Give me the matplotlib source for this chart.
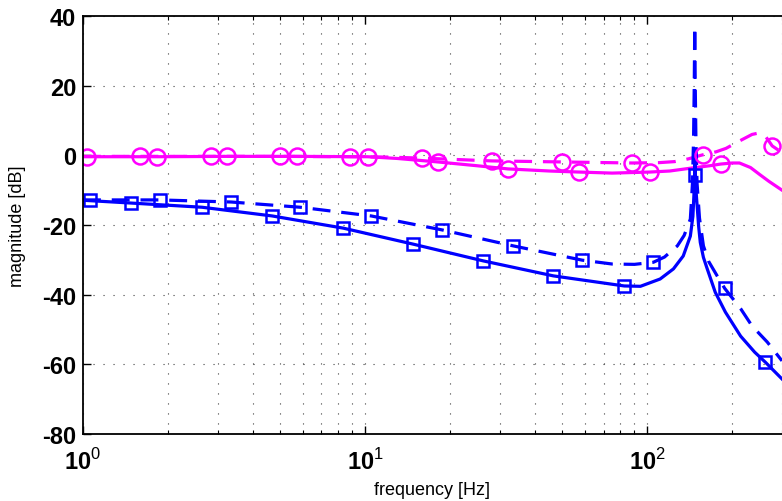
import matplotlib
matplotlib.use("Agg")
import matplotlib.pyplot as plt
from matplotlib.ticker import FixedLocator, FixedFormatter, LogLocator, NullFormatter

# ---------------------------
# Data (frequency in Hz, magnitude in dB)
# ---------------------------
# magenta, solid line
mag_solid_f = [1, 1.83, 3.24, 5.74, 10.2, 13, 18.1, 25, 32.1, 45, 57.3, 75, 102, 120,
               145, 166, 182, 200, 212, 232, 250, 270, 300]
mag_solid_db = [-0.4, -0.4, -0.3, -0.3, -0.4, -0.9, -1.9, -3.0, -3.9, -4.5, -4.8, -5.1, -4.8, -4.5,
                -3.6, -3.0, -2.5, -2.2, -2.2, -3.5, -5.5, -7.5, -10.0]
mag_solid_mf = [1.03, 1.83, 3.24, 5.74, 10.2, 18.1, 32.1, 57.3, 102, 182]
mag_solid_mdb = [-0.4, -0.4, -0.3, -0.3, -0.4, -1.9, -3.9, -4.8, -4.8, -2.5]

# magenta, dashed line
mag_dash_f = [1, 1.59, 2.84, 4.99, 8.84, 12, 15.9, 28.1, 50, 88.4, 110, 125, 140, 150,
              158, 175, 190, 213, 235, 248, 262, 277, 290, 300]
mag_dash_db = [-0.3, -0.3, -0.3, -0.3, -0.4, -0.5, -0.8, -1.6, -1.9, -2.2, -2.1, -1.8, -1.0, -0.3,
               0.2, 1.0, 2.0, 4.2, 6.0, 6.4, 5.5, 2.7, 1.6, 0.8]
mag_dash_mf = [1.59, 2.84, 4.99, 8.84, 15.9, 28.1, 50, 88.4, 158, 277]
mag_dash_mdb = [-0.3, -0.3, -0.3, -0.4, -0.8, -1.6, -1.9, -2.2, 0.2, 2.7]

# blue, solid line
blue_solid_f = [1, 1.48, 2.64, 4.68, 8.36, 14.8, 26.2, 46.4, 82.8, 94.5, 111, 123.7,
                134, 142, 145, 146.3, 147, 147.3, 148, 149, 150.4, 152, 154, 158,
                163, 174, 189, 214, 240, 262, 300]
blue_solid_db = [-12.9, -13.7, -14.9, -17.4, -20.9, -25.5, -30.3, -34.6, -37.5, -37.6, -35.5, -32.6,
                 -28.9, -23.2, -17.5, -11.0, -5.7, -1.0, -6.0, -11.0, -15.5, -20.5, -25.0, -29.3,
                 -32.6, -39.3, -45.0, -51.9, -56.5, -59.4, -64.2]
blue_solid_mf = [1.48, 2.64, 4.68, 8.36, 14.8, 26.2, 46.4, 82.8, 147, 262]
blue_solid_mdb = [-13.7, -14.9, -17.4, -20.9, -25.5, -30.3, -34.6, -37.5, -5.7, -59.4]

# blue, dashed line
blue_dash_f = [1, 1.06, 1.87, 3.35, 5.88, 10.5, 18.7, 33.5, 58.8, 75, 90, 105, 115, 127.7,
               135, 142, 144.5, 145.8, 146.6, 147.2, 147.8, 148.6, 150, 153, 158, 165,
               177, 188, 214, 235, 266, 300]
blue_dash_db = [-12.8, -12.8, -12.8, -13.4, -14.9, -17.4, -21.4, -26.0, -30.1, -31.2, -31.3, -30.7, -29.2, -26.0,
                -23.0, -18.3, -8.0, 5.0, 20.0, 37.0, 20.0, 5.0, -8.0, -18.0, -26.0, -30.5,
                -34.7, -38.2, -44.0, -49.0, -53.6, -59.0]
blue_dash_mf = [1.06, 1.87, 3.35, 5.88, 10.5, 18.7, 33.5, 58.8, 105, 188]
blue_dash_mdb = [-12.8, -12.8, -13.4, -14.9, -17.4, -21.4, -26.0, -30.1, -30.7, -38.2]

y_ticks = [-80, -60, -40, -20, 0, 20, 40]
x_ticks = [1, 10, 100]
x_tick_labels = [r'$\mathbf{10}^{\mathrm{0}}$', r'$\mathbf{10}^{\mathrm{1}}$', r'$\mathbf{10}^{\mathrm{2}}$']

# ---------------------------
# Style
# ---------------------------
plt.rcParams['font.family'] = ['Liberation Sans', 'DejaVu Sans']
plt.rcParams['mathtext.fontset'] = 'custom'
plt.rcParams['mathtext.rm'] = 'Liberation Sans'
plt.rcParams['mathtext.bf'] = 'Liberation Sans:bold'

MAGENTA = '#ff00ff'
BLUE = '#0000ff'
LW = 2.3
DASH = (0, (5.6, 3.4))

fig = plt.figure(figsize=(7.82, 5.02), dpi=100)
ax = fig.add_axes([83 / 782, 1 - 435 / 502, 1 - 83 / 782, (435 - 17) / 502])

# lines
ax.semilogx(mag_solid_f, mag_solid_db, color=MAGENTA, lw=LW)
ax.semilogx(mag_dash_f, mag_dash_db, color=MAGENTA, lw=LW, linestyle=DASH)
ax.semilogx(blue_solid_f, blue_solid_db, color=BLUE, lw=LW)
ax.semilogx(blue_dash_f, blue_dash_db, color=BLUE, lw=LW, linestyle=DASH)

# markers
ax.plot(mag_solid_mf, mag_solid_mdb, 'o', color=MAGENTA, mfc='none', ms=11.5, mew=1.8)
ax.plot(mag_dash_mf, mag_dash_mdb, 'o', color=MAGENTA, mfc='none', ms=11.5, mew=1.8)
ax.plot(blue_solid_mf, blue_solid_mdb, 's', color=BLUE, mfc='none', ms=9, mew=1.8)
ax.plot(blue_dash_mf, blue_dash_mdb, 's', color=BLUE, mfc='none', ms=9, mew=1.8)

ax.set_xlim(1, 300)
ax.set_ylim(-80, 40)

ax.xaxis.set_major_locator(FixedLocator(x_ticks))
ax.xaxis.set_major_formatter(FixedFormatter(x_tick_labels))
ax.xaxis.set_minor_locator(LogLocator(base=10, subs=range(2, 10)))
ax.xaxis.set_minor_formatter(NullFormatter())
ax.set_yticks(y_ticks)
ax.set_yticklabels([str(v) for v in y_ticks], fontweight='bold')

ax.tick_params(axis='both', which='both', direction='in', top=True, right=False)
ax.tick_params(axis='both', which='major', length=6, width=1.0, labelsize=17)
ax.tick_params(axis='x', which='major', pad=10)
ax.tick_params(axis='y', which='major', pad=5)
ax.tick_params(axis='x', which='minor', length=3, width=0.8)

grid_kw = dict(color='0.25', linewidth=0.8, linestyle=(0, (1, 8)))
ax.grid(True, which='major', axis='both', **grid_kw)
ax.grid(True, which='minor', axis='x', **grid_kw)

for side in ['left', 'bottom', 'top']:
    ax.spines[side].set_linewidth(1.3)
ax.spines['right'].set_visible(False)

ax.set_xlabel('frequency [Hz]', fontsize=13)
ax.set_ylabel('magnitude [dB]', fontsize=13)
ax.xaxis.set_label_coords(0.5, -0.112)
ax.yaxis.set_label_coords(-0.081, 0.5)

fig.savefig('out.png', dpi=100)
